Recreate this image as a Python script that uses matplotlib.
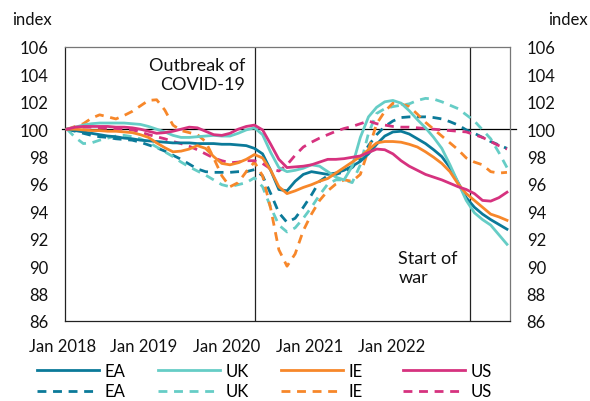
import matplotlib
matplotlib.use("Agg")
import matplotlib.pyplot as plt
import matplotlib.transforms as mtransforms
from matplotlib.lines import Line2D

plt.rcParams['font.family'] = ['Lato', 'DejaVu Sans']

# ---------------- data (monthly, Jan 2018 = 0) ----------------
months = list(range(55))

ea_solid = [100.0, 99.9, 99.8, 99.7, 99.6, 99.5, 99.45, 99.35, 99.3, 99.2, 99.15, 99.1, 99.05,
            99.0, 99.0, 99.0, 98.95, 98.95, 98.95, 98.9, 98.9, 98.85, 98.8, 98.6, 98.2, 97.0,
            95.6, 95.5, 96.2, 96.7, 96.9, 96.8, 96.7, 96.8, 97.0, 97.3, 97.65, 98.2, 98.9, 99.5,
            99.8, 99.85, 99.65, 99.3, 98.95, 98.5, 98.0, 97.2, 96.1, 95.0, 94.3, 93.8, 93.4,
            93.05, 92.7]
uk_solid = [100.0, 100.15, 100.3, 100.4, 100.45, 100.45, 100.45, 100.45, 100.4, 100.35, 100.2,
            100.0, 99.8, 99.55, 99.4, 99.4, 99.45, 99.5, 99.55, 99.5, 99.5, 99.7, 99.95, 100.1,
            99.6, 98.3, 97.2, 96.9, 97.0, 97.15, 97.4, 97.3, 96.9, 96.5, 96.3, 97.3, 99.4, 100.9,
            101.6, 102.0, 102.1, 101.9, 101.35, 100.7, 100.1, 99.4, 98.6, 97.4, 96.1, 94.8, 93.9,
            93.4, 93.0, 92.3, 91.6]
ie_solid = [100.0, 100.0, 99.95, 99.9, 99.9, 99.85, 99.85, 99.8, 99.75, 99.6, 99.4, 99.0, 98.65,
            98.35, 98.4, 98.55, 98.8, 98.6, 98.0, 97.5, 97.4, 97.55, 97.8, 98.15, 97.9, 97.0,
            95.8, 95.3, 95.5, 95.75, 95.95, 96.2, 96.4, 96.8, 97.2, 97.6, 98.0, 98.5, 99.0, 99.1,
            99.1, 99.05, 98.9, 98.7, 98.35, 97.95, 97.5, 96.9, 96.0, 95.3, 94.8, 94.3, 93.8,
            93.6, 93.35]
us_solid = [100.0, 100.15, 100.2, 100.2, 100.2, 100.2, 100.15, 100.15, 100.1, 100.0, 99.85,
            99.7, 99.75, 99.85, 100.0, 100.15, 100.1, 99.85, 99.6, 99.55, 99.7, 100.0, 100.2,
            100.3, 99.95, 98.9, 97.8, 97.2, 97.25, 97.3, 97.4, 97.6, 97.8, 97.8, 97.85, 97.95,
            98.05, 98.3, 98.55, 98.5, 98.2, 97.7, 97.3, 97.0, 96.7, 96.5, 96.3, 96.05, 95.8,
            95.6, 95.3, 94.8, 94.75, 95.0, 95.4]

ea_dash = [100.0, 99.85, 99.7, 99.55, 99.45, 99.4, 99.3, 99.25, 99.2, 99.05, 98.85, 98.65, 98.4,
           98.1, 97.8, 97.45, 97.1, 96.9, 96.85, 96.85, 96.85, 96.9, 96.9, 97.05, 96.6, 95.3,
           93.9, 93.2, 93.5, 94.3, 95.2, 96.2, 96.6, 96.7, 96.9, 97.2, 97.8, 98.8, 99.6, 100.2,
           100.6, 100.85, 100.9, 100.9, 100.9, 100.85, 100.75, 100.55, 100.3, 99.95, 99.7, 99.4,
           99.1, 98.85, 98.6]
uk_dash = [100.0, 99.4, 98.95, 99.0, 99.2, 99.35, 99.5, 99.55, 99.45, 99.3, 99.05, 98.7, 98.35,
           98.0, 97.6, 97.25, 96.95, 96.65, 96.3, 95.95, 95.8, 95.95, 96.1, 96.45, 95.8, 94.3,
           93.0, 92.5, 92.8, 93.5, 94.3, 95.2, 96.0, 96.3, 96.3, 96.1, 97.4, 99.7, 101.15, 101.5,
           101.65, 101.75, 101.85, 102.1, 102.25, 102.2, 102.0, 101.75, 101.5, 101.05, 100.6,
           99.95, 99.3, 98.3, 97.2]
ie_dash = [100.0, 100.2, 100.4, 100.8, 101.05, 100.9, 100.75, 101.0, 101.3, 101.7, 102.1, 102.15,
           101.4, 100.3, 99.9, 99.75, 99.6, 99.1, 97.9, 96.6, 95.8, 96.1, 96.9, 97.6, 96.6, 94.2,
           91.2, 90.0, 90.9, 92.6, 93.8, 94.8, 95.5, 96.0, 96.3, 96.2, 96.7, 98.5, 100.4, 101.3,
           101.9, 101.85, 101.65, 101.1, 100.5, 100.0, 99.5, 99.0, 98.5, 97.9, 97.6, 97.4, 96.9,
           96.8, 96.85]
us_dash = [100.0, 100.1, 100.15, 100.15, 100.1, 100.05, 100.0, 100.0, 99.95, 99.8, 99.6, 99.45,
           99.3, 99.1, 98.95, 98.75, 98.5, 98.2, 97.9, 97.7, 97.55, 97.6, 97.7, 97.7, 97.5, 97.1,
           96.95, 97.4, 98.1, 98.7, 99.05, 99.35, 99.6, 99.85, 100.05, 100.2, 100.4, 100.6, 100.4,
           100.3, 100.2, 100.15, 100.15, 100.1, 100.05, 100.0, 99.95, 99.9, 99.85, 99.8, 99.6,
           99.4, 99.1, 98.8, 98.55]

countries = ["EA", "UK", "IE", "US"]
colors = ["#0b7a99", "#66cdc6", "#f7872a", "#d6327f"]
solid_series = [ea_solid, uk_solid, ie_solid, us_solid]
dash_series = [ea_dash, uk_dash, ie_dash, us_dash]

x_tick_pos = [-0.6, 9.45, 19.6, 29.8, 39.9]
x_tick_labels = ["Jan 2018", "Jan 2019", "Jan 2020", "Jan 2021", "Jan 2022"]
y_ticks = [86, 88, 90, 92, 94, 96, 98, 100, 102, 104, 106]
covid_x = 23.07
war_x = 49.46

# ---------------- figure ----------------
W, H = 590, 402
fig = plt.figure(figsize=(W / 100, H / 100), dpi=100)
ax = fig.add_axes([65 / W, 1 - 322 / H, 445 / W, 274 / H])

TXT = "#111111"
FS_TICK = 12
FS_ANN = 13
dash_style = (0, (3.2, 2.4))
LW = 2.0
for d, col in zip(dash_series, colors):
    ax.plot(months, d, color=col, lw=LW, linestyle=dash_style, zorder=3)
for s, col in zip(solid_series, colors):
    ax.plot(months, s, color=col, lw=LW, zorder=4)

ax.set_xlim(-0.25, 54.37)
ax.set_ylim(86, 106)

ax.axhline(100, xmin=-3 / 445, xmax=1 + 6 / 445, color="black", lw=0.9,
           clip_on=False, zorder=2)
ax.axvline(covid_x, color="#222222", lw=0.9, zorder=2)
ax.axvline(war_x, color="#222222", lw=0.9, zorder=2)

ax.set_yticks(y_ticks)
ax.set_yticklabels([str(v) for v in y_ticks])
ax.tick_params(axis="y", length=0, pad=12, labelsize=FS_TICK, labelcolor=TXT,
               labelleft=True, labelright=True)
ax.set_xticks([])

trans = mtransforms.blended_transform_factory(ax.transData, ax.transAxes)
for xp, lab in zip(x_tick_pos, x_tick_labels):
    ax.text(xp, -25 / 274, lab, transform=trans, ha="center", va="center",
            fontsize=FS_TICK, color=TXT)

for side in ["left", "bottom"]:
    ax.spines[side].set_color("#222222")
    ax.spines[side].set_linewidth(0.9)
for side in ["top", "right"]:
    ax.spines[side].set_color("#777777")
    ax.spines[side].set_linewidth(0.9)

fig.text(12 / W, 1 - 20 / H, "index", ha="left", va="center", fontsize=FS_TICK, color=TXT)
fig.text(588 / W, 1 - 20 / H, "index", ha="right", va="center", fontsize=FS_TICK, color=TXT)

ax.text(covid_x - 1.2, 104.0, "Outbreak of\nCOVID-19", ha="right", va="center",
        fontsize=FS_ANN, color=TXT, linespacing=1.2)
ax.text(war_x - 8.8, 89.9, "Start of\nwar", ha="left", va="center",
        fontsize=FS_ANN, color=TXT, linespacing=1.2)

# legend: one per country column
col_x = [32, 153, 276, 398]
for c, col, xl in zip(countries, colors, col_x):
    handles = [Line2D([], [], color=col, lw=LW),
               Line2D([], [], color=col, lw=LW, linestyle=dash_style)]
    fig.legend(handles, [c, c], loc="upper left",
               bbox_to_anchor=(xl / W - 0.012, 1 - 352 / H),
               frameon=False, fontsize=FS_TICK, handlelength=3.75, handletextpad=0.35,
               labelspacing=0.28, borderpad=0.2)

fig.savefig("out.png", dpi=100)
